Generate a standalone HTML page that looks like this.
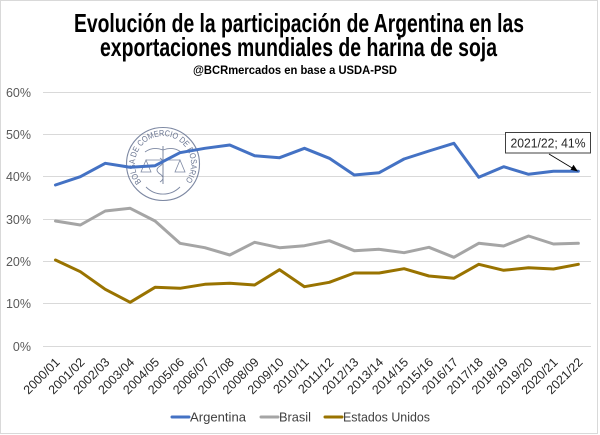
<!DOCTYPE html>
<html>
<head>
<meta charset="utf-8">
<style>
  html, body { margin: 0; padding: 0; background: #fff; }
  svg { display: block; }
</style>
</head>
<body>
<svg width="600" height="435" viewBox="0 0 600 435" xmlns="http://www.w3.org/2000/svg">
  <rect x="0" y="0" width="600" height="435" fill="#fff"/>
  <rect x="0.5" y="0.5" width="597" height="433" fill="#fff" stroke="#d9d9d9" stroke-width="1"/>

  <!-- Title -->
  <g font-family="'Liberation Sans Narrow','Liberation Sans',sans-serif" font-weight="bold" fill="#000" text-anchor="start">
    <text x="74" y="32" font-size="26" textLength="450" lengthAdjust="spacingAndGlyphs">Evolución de la participación de Argentina en las</text>
    <text x="100" y="56" font-size="26" textLength="397" lengthAdjust="spacingAndGlyphs">exportaciones mundiales de harina de soja</text>
    <text x="193" y="74" font-size="12" textLength="204" lengthAdjust="spacingAndGlyphs">@BCRmercados  en base a USDA-PSD</text>
  </g>

  <!-- Gridlines -->
  <g stroke="#d9d9d9" stroke-width="1">
    <line x1="43" y1="92.5" x2="591" y2="92.5"/>
    <line x1="43" y1="134.5" x2="591" y2="134.5"/>
    <line x1="43" y1="176.5" x2="591" y2="176.5"/>
    <line x1="43" y1="219.5" x2="591" y2="219.5"/>
    <line x1="43" y1="261.5" x2="591" y2="261.5"/>
    <line x1="43" y1="303.5" x2="591" y2="303.5"/>
    <line x1="43" y1="346.5" x2="591" y2="346.5"/>
  </g>

  <!-- Y labels -->
  <g font-family="'Liberation Sans',sans-serif" font-size="12.5" fill="#595959" text-anchor="end">
    <text x="31" y="97">60%</text>
    <text x="31" y="139">50%</text>
    <text x="31" y="181">40%</text>
    <text x="31" y="224">30%</text>
    <text x="31" y="266">20%</text>
    <text x="31" y="308">10%</text>
    <text x="31" y="351">0%</text>
  </g>

  <!-- Watermark logo -->
  <g opacity="0.8" stroke="#5d6b8c" fill="none">
    <circle cx="163" cy="164" r="36.5" stroke-width="1.1"/>
    <path id="logoArc" d="M141.55,182 A28,28 0 1,1 184.45,182" stroke="none"/>
    <path d="M146,187 A24,24 0 0,0 180,187" stroke-width="0.9"/>
    <line x1="163" y1="146" x2="163" y2="184" stroke-width="1"/>
    <path d="M163,150 q-10,-4 -18,2 M163,150 q10,-4 18,2" stroke-width="0.9"/>
    <path d="M160,158 q6,4 0,8 q-6,4 0,8 q6,4 0,8" stroke-width="0.9"/>
    <line x1="146" y1="160" x2="180" y2="160" stroke-width="0.8"/>
    <path d="M141,172 l5,-12 l5,12 z M175,172 l5,-12 l5,12 z" stroke-width="0.8"/>
  </g>
  <text font-family="'Liberation Sans',sans-serif" font-size="8.5" fill="#4f5d7e" opacity="0.85">
    <textPath href="#logoArc" textLength="125" lengthAdjust="spacingAndGlyphs">BOLSA DE COMERCIO DE ROSARIO</textPath>
  </text>

  <!-- Series -->
  <g fill="none" stroke-width="3" stroke-linejoin="round" stroke-linecap="round">
    <polyline stroke="#4472C4" points="55.45,185 80.35,176.7 105.25,163.3 130.15,167.3 155.05,165.7 179.95,152.7 204.85,148.3 229.75,145 254.65,155.7 279.55,157.7 304.45,148.3 329.35,158.3 354.25,175 379.15,172.7 404.05,159 428.95,151 453.85,143.3 478.75,177.3 503.65,166.7 528.55,174.3 553.45,171.3 578.35,171.3"/>
    <polyline stroke="#A5A5A5" points="55.45,221 80.35,225 105.25,211 130.15,208.3 155.05,221 179.95,243.3 204.85,247.7 229.75,255 254.65,242.3 279.55,247.7 304.45,245.7 329.35,240.7 354.25,250.7 379.15,249.3 404.05,252.7 428.95,247.3 453.85,257.3 478.75,243.3 503.65,246 528.55,236 553.45,244 578.35,243.3"/>
    <polyline stroke="#997300" points="55.45,260 80.35,271.7 105.25,289.3 130.15,302.3 155.05,287.3 179.95,288.3 204.85,284.3 229.75,283.3 254.65,285 279.55,269.7 304.45,286.7 329.35,282.3 354.25,273 379.15,273 404.05,268.7 428.95,276 453.85,278.3 478.75,264.3 503.65,270.3 528.55,267.7 553.45,269 578.35,264.3"/>
  </g>

  <!-- Annotation -->
  <line x1="549" y1="154" x2="573" y2="168.5" stroke="#000" stroke-width="0.8"/>
  <path d="M578,171.5 L570.5,169.8 L573.5,164.8 Z" fill="#000"/>
  <rect x="505.5" y="132.5" width="85" height="20.5" fill="#fff" stroke="#404040" stroke-width="1"/>
  <text x="548" y="147.5" font-family="'Liberation Sans',sans-serif" font-size="12.5" fill="#262626" text-anchor="middle" textLength="75" lengthAdjust="spacingAndGlyphs">2021/22; 41%</text>

  <!-- X labels -->
  <g font-family="'Liberation Sans',sans-serif" font-size="12.5" fill="#262626" text-anchor="end">
    <text transform="translate(60.5,363) rotate(-45)">2000/01</text>
    <text transform="translate(85.4,363) rotate(-45)">2001/02</text>
    <text transform="translate(110.3,363) rotate(-45)">2002/03</text>
    <text transform="translate(135.2,363) rotate(-45)">2003/04</text>
    <text transform="translate(160.1,363) rotate(-45)">2004/05</text>
    <text transform="translate(185,363) rotate(-45)">2005/06</text>
    <text transform="translate(209.9,363) rotate(-45)">2006/07</text>
    <text transform="translate(234.8,363) rotate(-45)">2007/08</text>
    <text transform="translate(259.7,363) rotate(-45)">2008/09</text>
    <text transform="translate(284.6,363) rotate(-45)">2009/10</text>
    <text transform="translate(309.5,363) rotate(-45)">2010/11</text>
    <text transform="translate(334.4,363) rotate(-45)">2011/12</text>
    <text transform="translate(359.3,363) rotate(-45)">2012/13</text>
    <text transform="translate(384.2,363) rotate(-45)">2013/14</text>
    <text transform="translate(409.1,363) rotate(-45)">2014/15</text>
    <text transform="translate(434,363) rotate(-45)">2015/16</text>
    <text transform="translate(458.9,363) rotate(-45)">2016/17</text>
    <text transform="translate(483.8,363) rotate(-45)">2017/18</text>
    <text transform="translate(508.7,363) rotate(-45)">2018/19</text>
    <text transform="translate(533.6,363) rotate(-45)">2019/20</text>
    <text transform="translate(558.5,363) rotate(-45)">2020/21</text>
    <text transform="translate(583.4,363) rotate(-45)">2021/22</text>
  </g>

  <!-- Legend -->
  <g stroke-width="3" stroke-linecap="round">
    <line x1="172" y1="417" x2="189" y2="417" stroke="#4472C4"/>
    <line x1="261" y1="417" x2="278" y2="417" stroke="#A5A5A5"/>
    <line x1="325" y1="417" x2="342" y2="417" stroke="#997300"/>
  </g>
  <g font-family="'Liberation Sans',sans-serif" font-size="13" fill="#404040">
    <text x="190" y="421.5" textLength="56" lengthAdjust="spacingAndGlyphs">Argentina</text>
    <text x="279" y="421.5" textLength="32" lengthAdjust="spacingAndGlyphs">Brasil</text>
    <text x="343" y="421.5" textLength="87" lengthAdjust="spacingAndGlyphs">Estados Unidos</text>
  </g>
</svg>
</body>
</html>
